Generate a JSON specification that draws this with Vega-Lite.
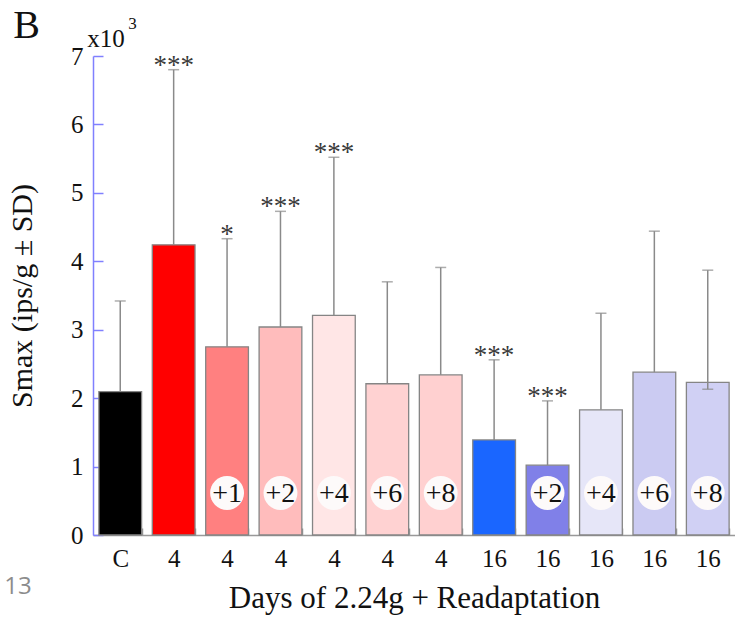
{
  "$schema": "https://vega.github.io/schema/vega-lite/v6.json",
  "width": 642,
  "height": 479,
  "autosize": {"type": "none"},
  "padding": {"left": 93, "top": 56, "right": 0, "bottom": 89},
  "background": "white",
  "config": {"view": {"stroke": null}, "font": "Liberation Serif"},
  "datasets": {
    "bars": [
      {"key": "C", "value": 2.095, "lo": 2.095, "hi": 3.42, "stars": "", "tag": ""},
      {"key": "4", "value": 4.24, "lo": 4.24, "hi": 6.80, "stars": "***", "tag": ""},
      {"key": "4+1", "value": 2.75, "lo": 2.75, "hi": 4.33, "stars": "*", "tag": "+1"},
      {"key": "4+2", "value": 3.04, "lo": 3.04, "hi": 4.73, "stars": "***", "tag": "+2"},
      {"key": "4+4", "value": 3.21, "lo": 3.21, "hi": 5.52, "stars": "***", "tag": "+4"},
      {"key": "4+6", "value": 2.21, "lo": 2.21, "hi": 3.70, "stars": "", "tag": "+6"},
      {"key": "4+8", "value": 2.34, "lo": 2.34, "hi": 3.91, "stars": "", "tag": "+8"},
      {"key": "16", "value": 1.39, "lo": 1.39, "hi": 2.56, "stars": "***", "tag": ""},
      {"key": "16+2", "value": 1.02, "lo": 1.02, "hi": 1.96, "stars": "***", "tag": "+2"},
      {"key": "16+4", "value": 1.83, "lo": 1.83, "hi": 3.24, "stars": "", "tag": "+4"},
      {"key": "16+6", "value": 2.38, "lo": 2.38, "hi": 4.44, "stars": "", "tag": "+6"},
      {"key": "16+8", "value": 2.23, "lo": 2.13, "hi": 3.87, "stars": "", "tag": "+8"}
    ],
    "one": [{"note": "x"}]
  },
  "data": {"name": "bars"},
  "encoding": {
    "x": {
      "field": "key",
      "type": "nominal",
      "sort": null,
      "scale": {"paddingInner": 0.2, "paddingOuter": 0.11},
      "axis": {
        "title": "Days of 2.24g + Readaptation",
        "titleFont": "Liberation Serif",
        "titleFontSize": 31,
        "titleFontWeight": "normal",
        "titleColor": "#111",
        "titlePadding": 12,
        "labelExpr": "split(datum.label, '+')[0]",
        "labelAngle": 0,
        "labelFont": "Liberation Serif",
        "labelFontSize": 25,
        "labelColor": "#111",
        "labelPadding": 18,
        "domainColor": "#999999",
        "domainWidth": 1.5,
        "tickColor": "#999999",
        "tickSize": -7,
        "tickWidth": 1.5,
        "tickBand": "extent"
      }
    }
  },
  "layer": [
    {
      "mark": {"type": "bar", "stroke": "#858585", "strokeWidth": 1.3},
      "encoding": {
        "y": {
          "field": "value",
          "type": "quantitative",
          "scale": {"domain": [0, 7], "nice": false},
          "axis": {
            "title": "Smax (ips/g ± SD)",
            "titleFont": "Liberation Serif",
            "titleFontSize": 30,
            "titleFontWeight": "normal",
            "titleColor": "#111",
            "titlePadding": 33,
            "values": [0, 1, 2, 3, 4, 5, 6, 7],
            "format": "d",
            "grid": false,
            "labelFont": "Liberation Serif",
            "labelFontSize": 25,
            "labelColor": "#111",
            "labelPadding": 20,
            "domainColor": "#8080ff",
            "domainWidth": 1.5,
            "tickColor": "#8080ff",
            "tickSize": -10,
            "tickWidth": 1.5
          }
        },
        "color": {
          "field": "key",
          "type": "nominal",
          "legend": null,
          "scale": {
            "domain": ["C", "4", "4+1", "4+2", "4+4", "4+6", "4+8", "16", "16+2", "16+4", "16+6", "16+8"],
            "range": ["#000000", "#ff0000", "#ff8080", "#ffbcbc", "#ffe6e6", "#ffd2d2", "#ffd0d0", "#1a66ff", "#8080e8", "#e6e6f8", "#cbcbf2", "#d0d0f4"]
          }
        }
      }
    },
    {
      "mark": {"type": "rule", "color": "#8a8a8a", "strokeWidth": 1.5},
      "encoding": {
        "y": {"field": "lo", "type": "quantitative"},
        "y2": {"field": "hi"}
      }
    },
    {
      "mark": {"type": "tick", "color": "#8a8a8a", "size": 11, "thickness": 1.5},
      "encoding": {"y": {"field": "hi", "type": "quantitative"}}
    },
    {
      "transform": [{"filter": "datum.lo < datum.value"}],
      "mark": {"type": "tick", "color": "#8a8a8a", "size": 11, "thickness": 1.5},
      "encoding": {"y": {"field": "lo", "type": "quantitative"}}
    },
    {
      "mark": {"type": "text", "fontSize": 27, "font": "Liberation Serif", "color": "#3a3a3a", "baseline": "alphabetic", "dy": 4},
      "encoding": {"y": {"field": "hi", "type": "quantitative"}, "text": {"field": "stars"}}
    },
    {
      "transform": [{"filter": "datum.tag != ''"}],
      "mark": {"type": "point", "shape": "circle", "filled": true, "fill": "#fdfafa", "opacity": 1, "size": 1150, "strokeWidth": 0},
      "encoding": {"y": {"datum": 0.614}}
    },
    {
      "transform": [{"filter": "datum.tag != ''"}],
      "mark": {"type": "text", "fontSize": 28, "font": "Liberation Serif", "color": "#111", "baseline": "middle", "dy": 1},
      "encoding": {"y": {"datum": 0.614}, "text": {"field": "tag"}}
    },
    {
      "data": {"name": "one"},
      "mark": {"type": "text", "fontSize": 40, "font": "Liberation Serif", "color": "#111", "align": "left", "baseline": "alphabetic", "dx": -107, "dy": -18},
      "encoding": {"x": {"datum": "C"}, "y": {"datum": 7}, "text": {"value": "B"}}
    },
    {
      "data": {"name": "one"},
      "mark": {"type": "text", "fontSize": 25, "font": "Liberation Serif", "color": "#111", "align": "left", "baseline": "alphabetic", "dx": -33, "dy": -9},
      "encoding": {"x": {"datum": "C"}, "y": {"datum": 7}, "text": {"value": "x10"}}
    },
    {
      "data": {"name": "one"},
      "mark": {"type": "text", "fontSize": 17, "font": "Liberation Serif", "color": "#111", "align": "left", "baseline": "alphabetic", "dx": 8, "dy": -27},
      "encoding": {"x": {"datum": "C"}, "y": {"datum": 7}, "text": {"value": "3"}}
    },
    {
      "data": {"name": "one"},
      "mark": {"type": "text", "fontSize": 24, "font": "Open Sans", "color": "#8c8c8c", "align": "left", "baseline": "alphabetic", "dx": -116, "dy": 59},
      "encoding": {"x": {"datum": "C"}, "y": {"datum": 0}, "text": {"value": "13"}}
    }
  ]
}
